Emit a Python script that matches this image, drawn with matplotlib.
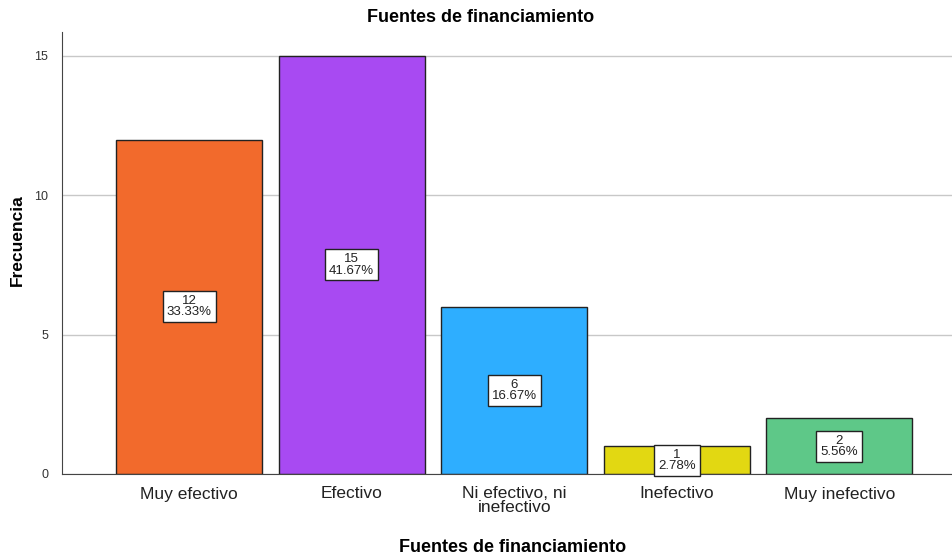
import matplotlib
matplotlib.use("Agg")
import matplotlib.pyplot as plt

categories = ["Muy efectivo", "Efectivo", "Ni efectivo, ni\ninefectivo", "Inefectivo", "Muy inefectivo"]
counts = [12, 15, 6, 1, 2]
percents = [33.33, 41.67, 16.67, 2.78, 5.56]
colors = ["#F26A2C", "#A84AF2", "#2EAEFF", "#E2D812", "#5EC888"]

plt.rcParams["font.family"] = ["Liberation Sans", "DejaVu Sans"]

fig = plt.figure(figsize=(9.53, 5.58), dpi=100)
ax = fig.add_axes([62 / 953, 1 - 474 / 558, 1 - 62 / 953, (474 - 32) / 558])

x = list(range(len(categories)))
ax.set_axisbelow(True)
ax.yaxis.grid(True, color="#C8C8C8", linewidth=1)
ax.bar(x, counts, width=0.9, color=colors, edgecolor="#222222", linewidth=1, zorder=2)

for xi, c, p in zip(x, counts, percents):
    ax.text(xi, c / 2, f"{c}\n{p:.2f}%", ha="center", va="center", fontsize=9.5,
            linespacing=0.9, zorder=3, color="#222222",
            bbox=dict(boxstyle="square,pad=0.3", facecolor="white", edgecolor="#222222", linewidth=1))

ax.set_xlim(-0.783, 4.70)
ax.set_ylim(0, 15.86)
ax.set_yticks([0, 5, 10, 15])
ax.set_xticks(x)
ax.set_xticklabels(categories, fontsize=12.5, color="#222222", linespacing=0.9)
ax.tick_params(axis="x", length=0, pad=9)
ax.tick_params(axis="y", length=0, pad=10, labelsize=9, labelcolor="#333333")

for side in ["top", "right"]:
    ax.spines[side].set_visible(False)
ax.spines["left"].set_color("#444444")
ax.spines["bottom"].set_color("#444444")

fig.text(481 / 953, 1 - 18 / 558, "Fuentes de financiamiento", ha="center", va="center",
         fontsize=13, fontweight="bold")
fig.text(513 / 953, 1 - 548 / 558, "Fuentes de financiamiento", ha="center", va="center",
         fontsize=13, fontweight="bold")
fig.text(17 / 953, 1 - 240 / 558, "Frecuencia", ha="center", va="center", rotation=90,
         fontsize=12.5, fontweight="bold")

fig.savefig("out.png", dpi=100)
